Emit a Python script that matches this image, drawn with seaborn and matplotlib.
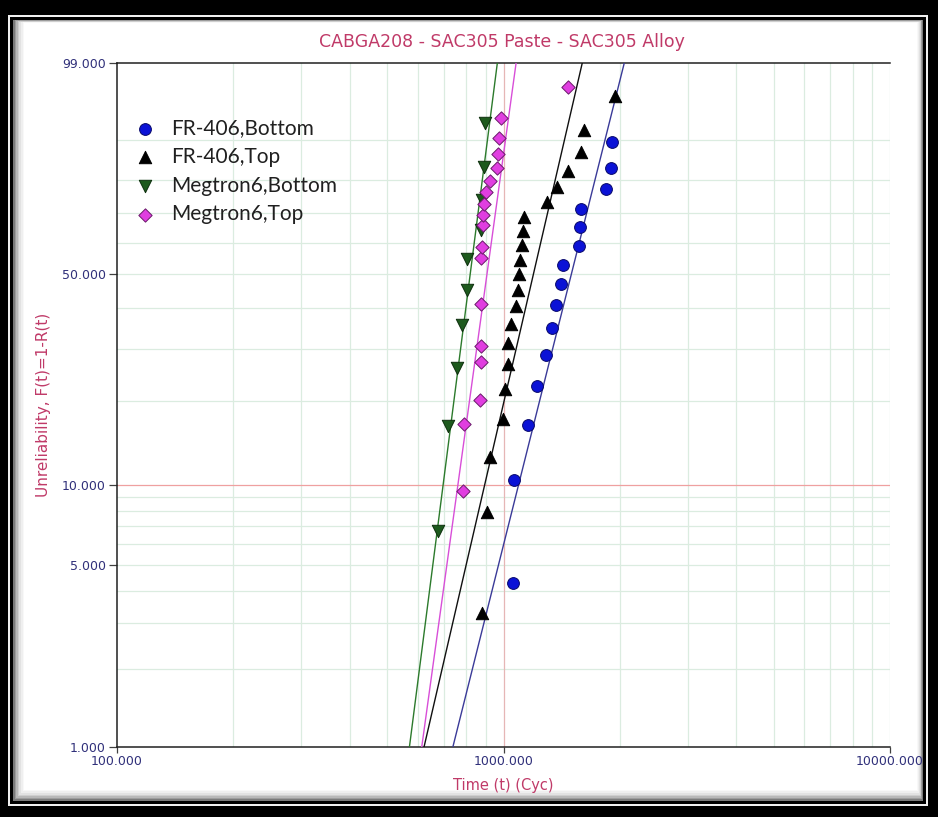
import numpy as np
import pandas as pd
import matplotlib
matplotlib.use("Agg")
import matplotlib.pyplot as plt
from matplotlib.patches import Rectangle
from matplotlib.ticker import FixedLocator, NullLocator, FormatStrFormatter
import seaborn as sns

# ---------------- data ----------------
series_names = ["FR-406,Bottom", "FR-406,Top", "Megtron6,Bottom", "Megtron6,Top"]

fr406_bottom_cycles = [1058, 1065, 1157, 1221, 1288, 1335, 1367, 1409, 1426,
                       1568, 1577, 1587, 1842, 1897, 1909]
fr406_bottom_unrel = [4.27, 10.37, 16.46, 22.56, 28.66, 34.76, 40.85, 46.95,
                      53.05, 59.15, 65.24, 71.34, 77.44, 83.54, 89.63]

fr406_top_cycles = [878, 905, 923, 995, 1009, 1025, 1029, 1046, 1077, 1092,
                    1099, 1103, 1115, 1121, 1132, 1294, 1373, 1472, 1587, 1616, 1943]
fr406_top_unrel = [3.27, 7.94, 12.62, 17.29, 21.96, 26.64, 31.31, 35.98, 40.65,
                   45.33, 50.00, 54.67, 59.35, 64.02, 68.69, 73.36, 78.04, 82.71,
                   87.38, 92.06, 96.73]

megtron_bottom_cycles = [678, 717, 759, 782, 803, 806, 877, 880, 890, 897]
megtron_bottom_unrel = [6.73, 16.35, 25.96, 35.58, 45.19, 54.81, 64.42, 74.04,
                        83.65, 93.27]

megtron_top_cycles = [787, 788, 870, 873, 875, 875, 875, 878, 884, 887, 890,
                      901, 923, 960, 970, 974, 985, 1469]
megtron_top_unrel = [9.51, 16.55, 20.07, 27.11, 30.63, 41.20, 55.28, 58.80,
                     65.85, 69.37, 72.89, 76.41, 79.93, 83.45, 86.97, 90.49,
                     94.01, 97.54]

# Weibull fit parameters (shape beta, scale eta in cycles)
fit_beta = [6.0, 6.5, 11.7, 10.9]
fit_eta = [1592, 1264, 846, 937]

y_major = [1, 5, 10, 50, 99]
y_grid = [2, 3, 4, 6, 7, 8, 9, 20, 30, 40, 60, 70, 80, 90]
x_major = [100, 1000, 10000]
x_grid = [200, 300, 400, 500, 600, 700, 800, 900,
          2000, 3000, 4000, 5000, 6000, 7000, 8000, 9000, 10000]

title_text = "CABGA208 - SAC305 Paste - SAC305 Alloy"
x_label = "Time (t) (Cyc)"
y_label = "Unreliability, F(t)=1-R(t)"

# ---------------- styling ----------------
marker_colors = ["#0b12d6", "#000000", "#1d5a1d", "#e03ee0"]
edge_colors = ["#07086a", "#000000", "#0d2f0d", "#6a1a6a"]
line_colors = ["#3a3a98", "#101010", "#2c7a2c", "#d84ed8"]
markers = ["o", "^", "v", "D"]
marker_sizes = [72, 80, 80, 46]

title_color = "#c03a68"
tick_color = "#30307a"
grid_color = "#dbece0"

sns.set_theme(style="white")
plt.rcParams["font.family"] = ["DejaVu Sans"]

W, H = 938, 817
fig = plt.figure(figsize=(W / 100, H / 100), dpi=100)
fig.patch.set_facecolor("white")


def frame_rect(x0, y0, x1, y1, color, z):
    fig.add_artist(Rectangle((x0 / W, 1 - y1 / H), (x1 - x0) / W, (y1 - y0) / H,
                             transform=fig.transFigure, facecolor=color,
                             edgecolor="none", zorder=z))


# picture frame: outer black border, thin light gap, inner black line, soft shadow
frame_rect(0, 0, W, H, "#000000", -20)
frame_rect(8, 15, 928, 806, "#f0f0f0", -19)
frame_rect(10, 17, 926, 804, "#000000", -18)
shades = ["#7a7a7a", "#9c9c9c", "#b8b8b8", "#cfcfcf", "#e2e2e2", "#efefef", "#f8f8f8"]
for i, c in enumerate(shades):
    frame_rect(13 + i * 1.6, 20 + i * 0.4, 923 - i * 0.8, 801 - i * 1.6, c, -17 + i)
frame_rect(13 + 7 * 1.6, 20 + 7 * 0.4, 923 - 7 * 0.8, 801 - 7 * 1.6, "#ffffff", -9)

ax_left, ax_right, ax_top, ax_bottom = 117, 890, 63, 747
ax = fig.add_axes([ax_left / W, 1 - ax_bottom / H,
                   (ax_right - ax_left) / W, (ax_bottom - ax_top) / H])
ax.set_facecolor("white")


# Weibull probability scale for the unreliability axis
def weib_fwd(f):
    p = np.clip(np.asarray(f, dtype=float) / 100.0, 1e-9, 1 - 1e-12)
    return np.log(-np.log1p(-p))


def weib_inv(w):
    return 100.0 * (-np.expm1(-np.exp(np.asarray(w, dtype=float))))


ax.set_xscale("log")
ax.set_yscale("function", functions=(weib_fwd, weib_inv))
ax.set_xlim(100, 10000)
ax.set_ylim(1, 99)

# grid
for v in y_grid + [5, 50]:
    ax.axhline(v, color=grid_color, lw=0.9, zorder=0)
ax.axhline(10, color="#efa0a0", lw=0.9, zorder=0.5)
for v in x_grid:
    ax.axvline(v, color=grid_color, lw=0.9, zorder=0)
ax.axvline(1000, color="#e6b6b6", lw=0.9, zorder=0.5)

# data points
cycles = [fr406_bottom_cycles, fr406_top_cycles, megtron_bottom_cycles, megtron_top_cycles]
unrel = [fr406_bottom_unrel, fr406_top_unrel, megtron_bottom_unrel, megtron_top_unrel]
df = pd.concat([pd.DataFrame({"cycles": c, "unrel": u, "series": n})
                for c, u, n in zip(cycles, unrel, series_names)], ignore_index=True)

for i, name in enumerate(series_names):
    sub = df[df["series"] == name]
    sns.scatterplot(data=sub, x="cycles", y="unrel", color=marker_colors[i],
                    marker=markers[i], s=marker_sizes[i], edgecolor=edge_colors[i],
                    linewidth=0.7, label=name, ax=ax, zorder=5)

handles, labels = ax.get_legend_handles_labels()

# fitted Weibull lines
f_line = np.array([1.0, 99.0])
for i, name in enumerate(series_names):
    t_line = fit_eta[i] * (-np.log1p(-f_line / 100.0)) ** (1.0 / fit_beta[i])
    sns.lineplot(x=t_line, y=f_line, sort=False, estimator=None, color=line_colors[i],
                 lw=1.0, ax=ax, legend=False, zorder=3)

# axes, ticks, labels
for side in ["left", "bottom", "top"]:
    ax.spines[side].set_visible(True)
    ax.spines[side].set_color("#202020")
    ax.spines[side].set_linewidth(1.1)
ax.spines["right"].set_visible(False)

ax.xaxis.set_major_locator(FixedLocator(x_major))
ax.xaxis.set_minor_locator(NullLocator())
ax.yaxis.set_major_locator(FixedLocator(y_major))
ax.yaxis.set_minor_locator(NullLocator())
ax.xaxis.set_major_formatter(FormatStrFormatter("%.3f"))
ax.yaxis.set_major_formatter(FormatStrFormatter("%.3f"))
ax.tick_params(axis="y", which="major", left=True, direction="out", length=6,
               width=0.9, color="#404040", pad=2, labelsize=9, labelcolor=tick_color)
ax.tick_params(axis="x", which="major", bottom=True, direction="out", length=4,
               width=0.9, color="#404040", pad=1.5, labelsize=9, labelcolor=tick_color)

ax.set_xlabel(x_label, color=title_color, fontsize=10.5)
ax.set_ylabel(y_label, color=title_color, fontsize=11)
ax.xaxis.set_label_coords(0.5, -0.046)
ax.yaxis.set_label_coords(-0.086, 0.5)

fig.text(502 / W, 1 - 42 / H, title_text, ha="center", va="center",
         color=title_color, fontsize=12.5)

leg = ax.legend(handles, labels, loc="upper left",
                bbox_to_anchor=(135 / W, 1 - 118 / H), bbox_transform=fig.transFigure,
                frameon=False, borderpad=0, borderaxespad=0, handlelength=1.0,
                handletextpad=0.75, labelspacing=0.42,
                prop={"family": ["Lato", "DejaVu Sans"], "size": 15})
for t in leg.get_texts():
    t.set_color("#202020")

fig.savefig("out.png", dpi=100, facecolor=fig.get_facecolor())
